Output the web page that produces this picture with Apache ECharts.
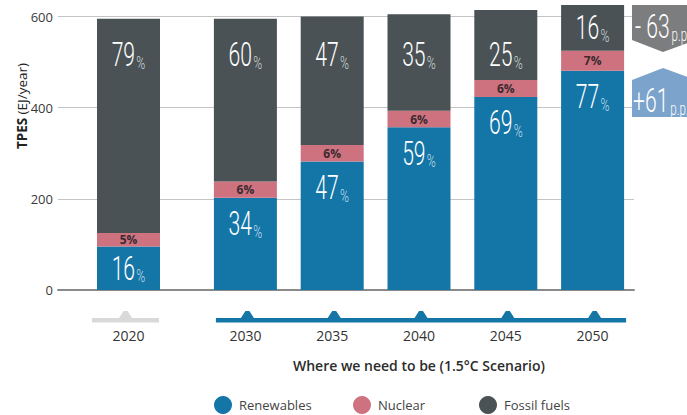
<!DOCTYPE html>
<html>
<head>
<meta charset="utf-8">
<script src="https://cdn.jsdelivr.net/npm/echarts@6/dist/echarts.min.js"></script>
<style>
  html, body { margin: 0; padding: 0; background: #ffffff; }
  #chart { width: 687px; height: 415px; }
</style>
</head>
<body>
<div id="chart"></div>
<script>
// Total primary energy supply by source, 2020 and the 1.5°C pathway
const years = ['2020', '2030', '2035', '2040', '2045', '2050'];
const totals = [595, 595, 600, 605, 614, 625];          // EJ/year
const renewablesShare = [16, 34, 47, 59, 69, 77];       // % of total
const nuclearShare = [5, 6, 6, 6, 6, 7];
const fossilShare = [79, 60, 47, 35, 25, 16];
const yTicks = [0, 200, 400, 600];
const seriesNames = ['Renewables', 'Nuclear', 'Fossil fuels'];
const scenarioLabel = 'Where we need to be (1.5°C Scenario)';
const axisTitleBold = 'TPES';
const axisTitleUnit = '(EJ/year)';
const unitSuffix = 'p.p.';

const COLORS = { renewables: '#1475a7', nuclear: '#cf7280', fossil: '#4a5255' };
const UI_FONT = "'Open Sans', 'Noto Sans', sans-serif";
const THIN_FONT = "Roboto, 'Liberation Sans', sans-serif";
const SQUEEZE = 0.64;                     // horizontal squeeze for the big percentage figures
const GRID_TOP = 16.5, GRID_BOTTOM = 125;
const BAR_W = 63;
const FOSSIL_LABEL_Y = 55;

const chart = echarts.init(document.getElementById('chart'), null, { renderer: 'svg' });

// the first year sits in its own grid, the scenario years in a second one
const groups = [
  { grid: 1, from: 0, to: 1 },
  { grid: 2, from: 1, to: 6 }
];
const gridOf = i => (i === 0 ? 1 : 2);

function segment(shareArr, i) {
  return totals[i] * shareArr[i] / 100;
}

const series = [];
groups.forEach(g => {
  const idx = [];
  for (let i = g.from; i < g.to; i++) idx.push(i);
  const common = {
    type: 'bar', stack: 'total' + g.grid, xAxisIndex: g.grid, yAxisIndex: g.grid,
    barWidth: BAR_W, clip: false, animation: false
  };
  series.push(Object.assign({}, common, {
    name: seriesNames[0],
    itemStyle: { color: COLORS.renewables },
    data: idx.map(i => segment(renewablesShare, i))
  }));
  series.push(Object.assign({}, common, {
    name: seriesNames[1],
    itemStyle: { color: COLORS.nuclear },
    data: idx.map(i => segment(nuclearShare, i)),
    label: {
      show: true, position: 'inside',
      formatter: p => nuclearShare[idx[p.dataIndex]] + '%',
      fontFamily: UI_FONT, fontSize: 12, fontWeight: 'bold', color: '#3a2a2f'
    }
  }));
  series.push(Object.assign({}, common, {
    name: seriesNames[2],
    itemStyle: { color: COLORS.fossil },
    data: idx.map(i => segment(fossilShare, i))
  }));
});

const hiddenY = gi => ({
  gridIndex: gi, type: 'value', show: false,
  min: yTicks[0], max: yTicks[yTicks.length - 1], interval: yTicks[1] - yTicks[0]
});

const yearLabel = { margin: 38, fontFamily: UI_FONT, fontSize: 14, color: '#333333' };

const option = {
  animation: false,
  grid: [
    { left: 58, right: 53, top: GRID_TOP, bottom: GRID_BOTTOM },
    { left: 85, width: 87, top: GRID_TOP, bottom: GRID_BOTTOM },
    { left: 202, width: 434, top: GRID_TOP, bottom: GRID_BOTTOM }
  ],
  xAxis: [
    {
      gridIndex: 0, type: 'category', data: [''],
      axisLine: { lineStyle: { color: '#8a8a8a', width: 2 } },
      axisTick: { show: false }, axisLabel: { show: false }
    },
    {
      gridIndex: 1, type: 'category', data: years.slice(0, 1),
      axisLine: { show: false }, axisTick: { show: false }, axisLabel: yearLabel
    },
    {
      gridIndex: 2, type: 'category', data: years.slice(1),
      axisLine: { show: false }, axisTick: { show: false }, axisLabel: yearLabel,
      name: scenarioLabel, nameLocation: 'middle', nameGap: 68,
      nameTextStyle: { fontFamily: UI_FONT, fontSize: 14, fontWeight: 600, color: '#2b2b2b' }
    }
  ],
  yAxis: [
    {
      gridIndex: 0, type: 'value',
      min: yTicks[0], max: yTicks[yTicks.length - 1], interval: yTicks[1] - yTicks[0],
      axisLine: { show: false }, axisTick: { show: false },
      axisLabel: { margin: 5, fontFamily: UI_FONT, fontSize: 13, color: '#3a3a3a' },
      splitLine: { lineStyle: { color: '#c4c4c4', width: 1 } }
    },
    hiddenY(1),
    hiddenY(2)
  ],
  legend: [
    { data: [seriesNames[0]], left: 209 },
    { data: [seriesNames[1]], left: 348 },
    { data: [seriesNames[2]], left: 474 }
  ].map(l => Object.assign(l, {
    top: 391, icon: 'circle', itemWidth: 18, itemHeight: 18, itemGap: 0,
    selectedMode: false,
    textStyle: { fontFamily: UI_FONT, fontSize: 13, color: '#444444', padding: [0, 0, 0, 2] }
  })),
  series
};

chart.setOption(option);

const graphic = [];

// big percentage figures inside the renewables and fossil segments
const figureRich = pct => ({
  n: { fontFamily: THIN_FONT, fontWeight: 300, fontSize: 33, fill: '#ffffff', lineHeight: 34 },
  p: { fontFamily: THIN_FONT, fontWeight: 300, fontSize: 19, fill: pct, lineHeight: 26, verticalAlign: 'bottom', padding: [0, 0, 0, 2] }
});
function figure(x, y, value, pct) {
  return {
    type: 'text', silent: true, x, y, scaleX: SQUEEZE, z: 10,
    style: { text: '{n|' + value + '}{p|%}', align: 'center', verticalAlign: 'middle', rich: figureRich(pct) }
  };
}

years.forEach((yr, i) => {
  const gi = gridOf(i);
  const toY = v => chart.convertToPixel({ yAxisIndex: gi }, v);
  const x = chart.convertToPixel({ xAxisIndex: gi }, yr);
  const r = segment(renewablesShare, i);
  const n = segment(nuclearShare, i);
  const f = segment(fossilShare, i);
  const y0 = toY(0), yR = toY(r), yN = toY(r + n), yF = toY(r + n + f);
  const renewY = Math.min((y0 + yR) / 2, yR + 26);
  const fossilY = (yN - yF) > 60 ? FOSSIL_LABEL_Y : (yF + yN) / 2;
  graphic.push(figure(x, renewY, renewablesShare[i], 'rgba(215,232,243,0.9)'));
  graphic.push(figure(x, fossilY, fossilShare[i], 'rgba(222,225,226,0.9)'));
});

// year markers under the bars
const base = chart.convertToPixel({ yAxisIndex: 0 }, 0);
const lineY = base + 28;
const cx = years.map((y, i) => chart.convertToPixel({ xAxisIndex: gridOf(i) }, y));

function tri(x, color) {
  return {
    type: 'polygon', silent: true,
    shape: { points: [[x - 6.5, lineY], [x - 2, lineY - 7], [x + 2, lineY - 7], [x + 6.5, lineY]] },
    style: { fill: color }
  };
}

graphic.push({
  type: 'rect', silent: true,
  shape: { x: cx[0] - BAR_W / 2 - 5, y: lineY, width: BAR_W + 4, height: 4.5 },
  style: { fill: '#d9d9d9' }
});
graphic.push(tri(cx[0] - 3, '#d9d9d9'));
graphic.push({
  type: 'rect', silent: true,
  shape: { x: cx[1] - BAR_W / 2 + 2, y: lineY, width: cx[5] - cx[1] + BAR_W, height: 4.5 },
  style: { fill: COLORS.renewables }
});
for (let i = 1; i < years.length; i++) graphic.push(tri(cx[i] + 2, COLORS.renewables));

// rotated axis title
graphic.push({
  type: 'text', silent: true, x: 22, y: 106, rotation: Math.PI / 2,
  style: {
    text: '{b|' + axisTitleBold + '} {r|' + axisTitleUnit + '}',
    align: 'center', verticalAlign: 'middle',
    rich: {
      b: { fontFamily: UI_FONT, fontSize: 13.5, fontWeight: 'bold', fill: '#222222' },
      r: { fontFamily: UI_FONT, fontSize: 13.5, fill: '#222222' }
    }
  }
});

// change call-outs, 2020 to 2050, in percentage points
const last = years.length - 1;
const fossilChange = fossilShare[last] - fossilShare[0];
const renewChange = renewablesShare[last] - renewablesShare[0];
const fmtChange = v => (v < 0 ? '- ' : '+') + Math.abs(v);
const calloutRich = {
  n: { fontFamily: THIN_FONT, fontWeight: 300, fontSize: 33, fill: '#ffffff', lineHeight: 34 },
  p: { fontFamily: THIN_FONT, fontWeight: 300, fontSize: 18, fill: '#ffffff', lineHeight: 24, verticalAlign: 'bottom', padding: [0, 0, 0, 3] }
};

graphic.push({
  type: 'polygon', silent: true,
  shape: { points: [[632, 5], [696, 5], [696, 40], [663, 52], [632, 40]] },
  style: { fill: '#7b7d7e' }
});
graphic.push({
  type: 'text', silent: true, x: 635, y: 27, scaleX: SQUEEZE,
  style: { text: '{n|' + fmtChange(fossilChange) + '}{p|' + unitSuffix + '}', align: 'left', verticalAlign: 'middle', rich: calloutRich }
});
graphic.push({
  type: 'polygon', silent: true,
  shape: { points: [[632, 80], [663, 68], [696, 80], [696, 117], [632, 117]] },
  style: { fill: '#7ba3cc' }
});
graphic.push({
  type: 'text', silent: true, x: 633, y: 101, scaleX: SQUEEZE,
  style: { text: '{n|' + fmtChange(renewChange) + '}{p|' + unitSuffix + '}', align: 'left', verticalAlign: 'middle', rich: calloutRich }
});

chart.setOption({ graphic });
</script>
</body>
</html>
